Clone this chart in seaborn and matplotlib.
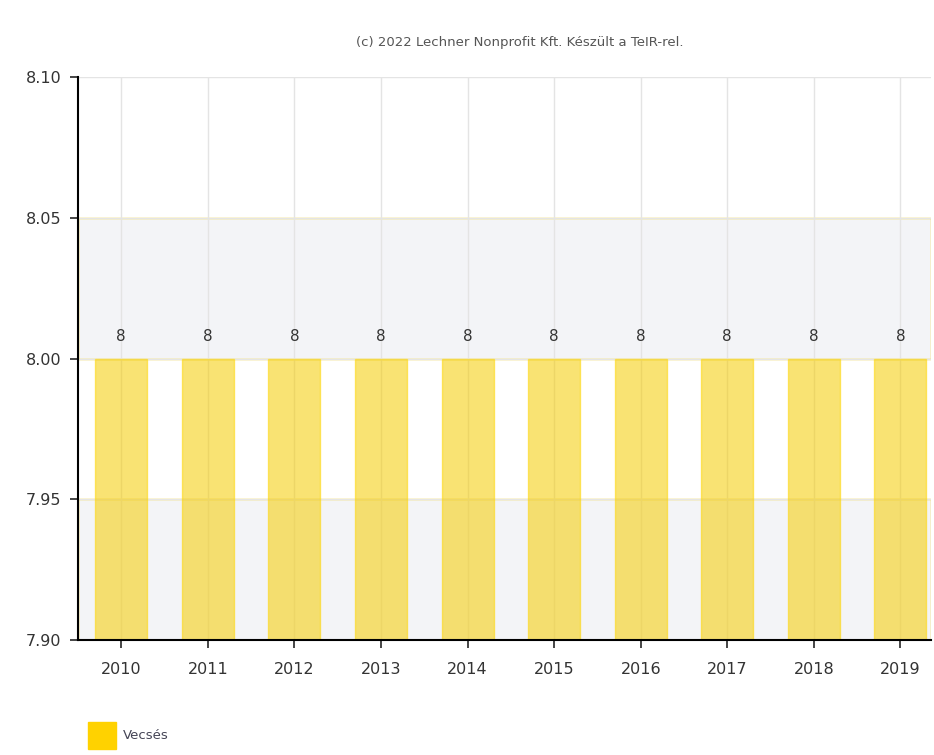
import numpy as np
import pandas as pd
import matplotlib.pyplot as plt
import seaborn as sns
from matplotlib.patches import Patch

years = ["2010", "2011", "2012", "2013", "2014", "2015", "2016", "2017", "2018", "2019"]
values = [8, 8, 8, 8, 8, 8, 8, 8, 8, 8]
series_name = "Vecsés"
yticks = [7.90, 7.95, 8.00, 8.05, 8.10]

df = pd.DataFrame({"year": years, "value": values})

sns.set_style("white")
plt.rcParams["font.family"] = ["DejaVu Sans"]

fig = plt.figure(figsize=(9.34, 7.55), dpi=100)
ax = fig.add_axes([0.0835, 0.1523, 0.9965 - 0.0835, 0.898 - 0.1523])

# alternating bands
ax.axhspan(7.90, 7.95, color="#f3f4f7", zorder=0)
ax.axhspan(8.00, 8.05, color="#f3f4f7", zorder=0)

sns.barplot(data=df, x="year", y="value", color="#F5CC00", width=0.6, saturation=1,
            alpha=0.55, ax=ax, zorder=2)
for p in ax.patches:
    p.set_edgecolor((1, 0.84, 0, 0.9))
    p.set_linewidth(1)

ax.set_ylim(7.90, 8.10)
ax.set_xlim(-0.5, 9.35)
ax.set_yticks(yticks)
ax.set_yticklabels([f"{t:.2f}" for t in yticks], fontsize=11.5, color="#333333")
ax.tick_params(axis="x", labelsize=11.5, labelcolor="#333333", length=6, width=1.2, pad=10)
ax.tick_params(axis="y", length=6, width=1.2, pad=6, left=True)
ax.tick_params(axis="x", bottom=True)
ax.set_xlabel("")
ax.set_ylabel("")

for i in range(len(years)):
    ax.axvline(i, color="#e4e4e4", lw=1, zorder=1)
for t in [7.95, 8.00, 8.05, 8.10]:
    ax.axhline(t, color="#e4e4e4", lw=1, zorder=1)

for i, v in enumerate(values):
    ax.text(i, v + 0.005, f"{v}", ha="center", va="bottom", fontsize=11, color="#333333")

for s in ["top", "right"]:
    ax.spines[s].set_visible(False)
ax.spines["left"].set_color("#000000")
ax.spines["bottom"].set_color("#000000")
ax.spines["left"].set_linewidth(1.5)
ax.spines["bottom"].set_linewidth(1.5)

fig.text(0.557, 0.944, "(c) 2022 Lechner Nonprofit Kft. Készült a TeIR-rel.",
         ha="center", va="center", fontsize=9.5, color="#555555")

fig.legend(handles=[Patch(facecolor="#FFD200", edgecolor="#FFD200")], labels=[series_name],
           loc="lower left", bbox_to_anchor=(0.082, -0.008), frameon=False, fontsize=9.5,
           handlelength=2.1, handleheight=2.8, handletextpad=0.5, labelcolor="#444455")

fig.savefig("out.png", dpi=100)
